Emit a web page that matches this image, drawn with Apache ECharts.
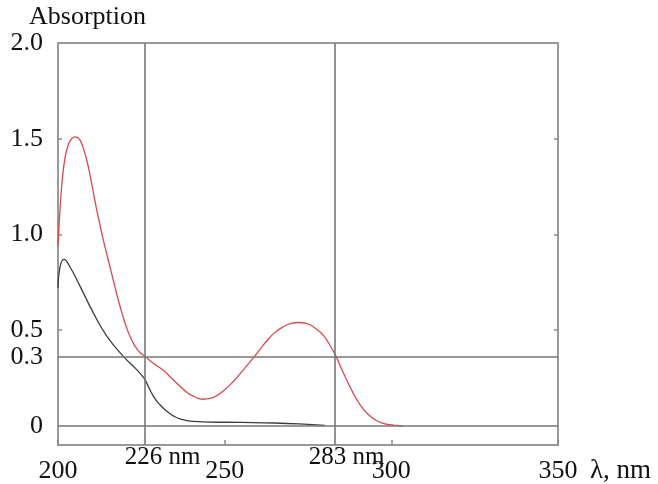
<!DOCTYPE html>
<html>
<head>
<meta charset="utf-8">
<script src="https://cdn.jsdelivr.net/npm/echarts@6/dist/echarts.min.js"></script>
<style>html,body{margin:0;padding:0;background:#fff}#c{width:658px;height:484px}</style>
</head>
<body>
<div id="c"></div>
<script>
// Wavelength (nm) and absorption values
var redWavelength = [200, 200.5, 201.2, 202.1, 203.1, 204.1, 205.1, 206.3, 207.4, 208.6, 209.6, 210.6, 211.6, 212.6, 213.6, 214.6, 215.6, 216.6, 217.6, 218.6, 219.6, 220.6, 221.6, 222.6, 223.6, 224.6, 226.1, 228.5, 231.6, 234, 236.6, 238.6, 240.6, 242, 243.6, 245.6, 247.6, 250, 252.6, 255.5, 258.6, 260.6, 262.6, 265, 267.6, 270, 272.1, 274.5, 277.6, 279.5, 281.1, 283.4, 285, 286.6, 288, 289.6, 291.5, 293.6, 295.5, 297.6, 299.5, 301.6, 303.6];
var redAbsorption = [0.94, 1.10, 1.27, 1.40, 1.47, 1.50, 1.51, 1.50, 1.46, 1.39, 1.31, 1.22, 1.13, 1.05, 0.97, 0.90, 0.83, 0.76, 0.69, 0.625, 0.565, 0.512, 0.468, 0.432, 0.404, 0.383, 0.363, 0.328, 0.29, 0.25, 0.207, 0.176, 0.155, 0.144, 0.139, 0.143, 0.158, 0.188, 0.232, 0.29, 0.355, 0.40, 0.443, 0.487, 0.518, 0.535, 0.54, 0.535, 0.505, 0.475, 0.435, 0.363, 0.30, 0.24, 0.19, 0.138, 0.09, 0.051, 0.028, 0.013, 0.006, 0.002, 0.0];

var blackWavelength = [200, 200.6, 201.8, 203.6, 206.6, 210.6, 214.6, 219.6, 223.6, 225.8, 226.3, 228.6, 230.6, 232.6, 234.6, 236.6, 240.6, 245, 255, 265, 275, 280];
var blackAbsorption = [0.72, 0.83, 0.87, 0.83, 0.73, 0.59, 0.47, 0.363, 0.294, 0.25, 0.235, 0.155, 0.11, 0.077, 0.052, 0.037, 0.023, 0.02, 0.018, 0.015, 0.008, 0.003];

// Reference lines: wavelengths and absorption levels with their printed labels
var markWavelengths = [226, 283];
var markWavelengthLabels = ['226 nm', '283 nm'];
var markLevels = [0, 0.36];
var markLevelLabels = ['', '0.3'];

// Axis ticks
var xTicks = [200, 250, 300, 350];
var yTickValues = [0, 0.5, 1.0, 1.5, 2.0];
var yTickLabels = ['0', '0.5', '1.0', '1.5', '2.0'];

function pairs(xs, ys) { return xs.map(function (x, i) { return [x, ys[i]]; }); }

var FONT = '"Liberation Serif", "Times New Roman", serif';
var LINECOL = '#777777';
var nmLabelShift = [36, 24];

var markLineData = [];
markWavelengths.forEach(function (w, i) {
  markLineData.push({ xAxis: w, label: { show: true, position: 'start', formatter: markWavelengthLabels[i], distance: 0, padding: [0, 0, 0, nmLabelShift[i]], fontFamily: FONT, fontSize: 25, color: '#111' } });
});
markLevels.forEach(function (v, i) {
  markLineData.push({ yAxis: v, label: { show: markLevelLabels[i] !== '', position: 'start', formatter: markLevelLabels[i], distance: 15, fontFamily: FONT, fontSize: 26, color: '#111' } });
});

var chart = echarts.init(document.getElementById('c'), null, { renderer: 'canvas' });
chart.setOption({
  animation: false,
  backgroundColor: '#fff',
  grid: { left: 58, right: 100, top: 43, bottom: 39, show: true, borderColor: '#999', borderWidth: 2, backgroundColor: 'transparent' },
  xAxis: [{
    type: 'value', min: 200, max: 350, interval: 50, position: 'bottom',
    name: 'λ, nm', nameLocation: 'end', nameGap: 32,
    nameTextStyle: { fontFamily: FONT, fontSize: 27, color: '#111', verticalAlign: 'top', padding: [12, 0, 0, 0] },
    axisLine: { show: false, onZero: false },
    axisTick: { show: true, inside: true, length: 5, lineStyle: { color: '#888', width: 1.5 } },
    axisLabel: { margin: 13, fontFamily: FONT, fontSize: 26, color: '#111',
      customValues: xTicks, formatter: function (v) { return String(v); } },
    splitLine: { show: false }
  }],
  yAxis: [{
    type: 'value', min: -0.1, max: 2.0,
    name: 'Absorption', nameLocation: 'end', nameGap: 8,
    nameTextStyle: { fontFamily: FONT, fontSize: 26, color: '#111', align: 'left', verticalAlign: 'bottom', padding: [0, 0, 0, -29] },
    axisLine: { show: false, onZero: false },
    axisTick: { show: true, inside: true, length: 4, customValues: [0.5, 1.0, 1.5], lineStyle: { color: '#888', width: 1.5 } },
    axisLabel: { margin: 15, fontFamily: FONT, fontSize: 26, color: '#111',
      customValues: yTickValues,
      formatter: function (v) {
        for (var i = 0; i < yTickValues.length; i++) { if (Math.abs(v - yTickValues[i]) < 1e-6) return yTickLabels[i]; }
        return '';
      } },
    splitLine: { show: false }
  }, {
    type: 'value', min: -0.1, max: 2.0, position: 'right',
    axisLine: { show: false, onZero: false },
    axisTick: { show: true, inside: true, length: 4, customValues: [0.5, 1.0, 1.5], lineStyle: { color: '#888', width: 1.5 } },
    axisLabel: { show: false },
    splitLine: { show: false }
  }],
  series: [{
    type: 'line', name: 'reference', data: [], symbol: 'none', silent: true, clip: false,
    markLine: {
      silent: true, symbol: ['none', 'none'],
      lineStyle: { color: LINECOL, width: 1.6, type: 'solid' },
      emphasis: { disabled: true },
      data: markLineData
    }
  }, {
    type: 'line', name: 'red', data: pairs(redWavelength, redAbsorption),
    smooth: 0.5, symbol: 'none', lineStyle: { color: '#d84a4a', width: 1.3 }
  }, {
    type: 'line', name: 'black', data: pairs(blackWavelength, blackAbsorption),
    smooth: 0.5, symbol: 'none', lineStyle: { color: '#3d3d3d', width: 1.3 }
  }]
});
</script>
</body>
</html>
